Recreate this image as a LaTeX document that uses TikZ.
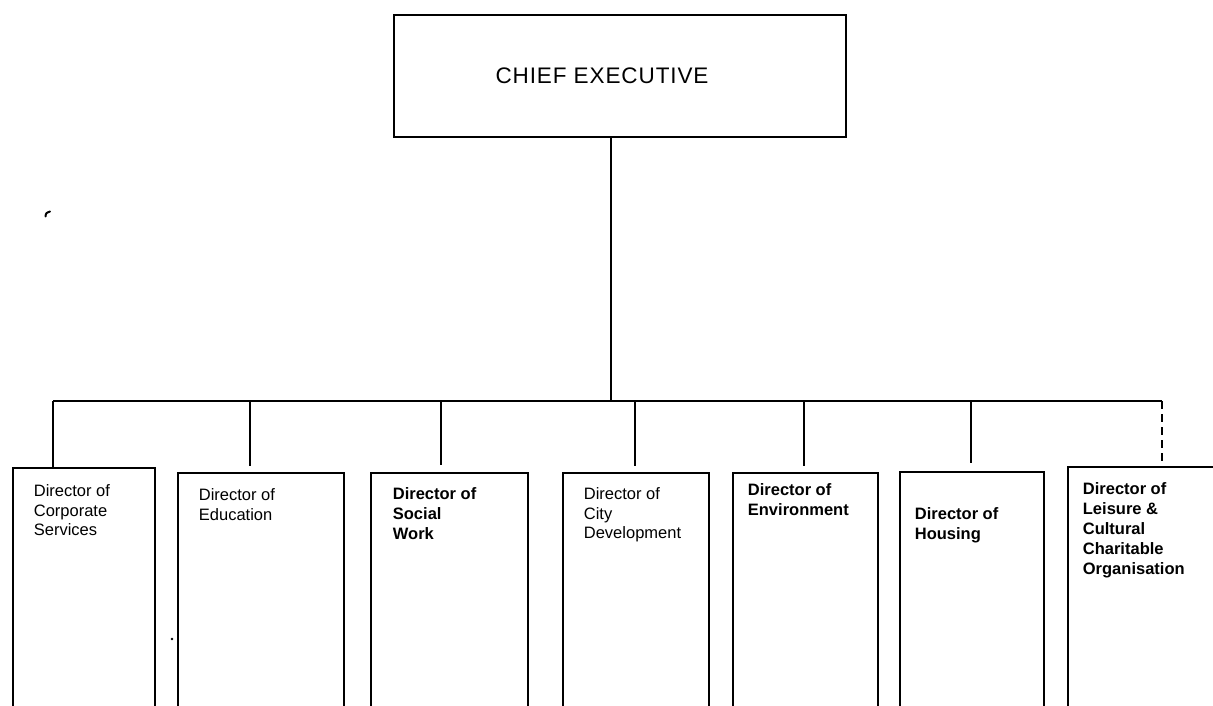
\documentclass[tikz,border=0pt]{standalone}
\usepackage{fontspec}
\setmainfont{Liberation Sans}
\begin{document}
\begin{tikzpicture}[x=1pt,y=-1pt,line width=1.8pt,
  box/.style={draw,rectangle,anchor=north west,inner sep=0pt},
  dtext/.style={anchor=north west,align=left,inner sep=0pt,font=\fontsize{16.5}{19.5}\selectfont},
  btext/.style={anchor=north west,align=left,inner sep=0pt,font=\fontsize{16.5}{19.8}\selectfont\bfseries},
  link/.style={draw,line width=1.6pt},
  dlink/.style={draw,line width=1.8pt,dash pattern=on 8pt off 5pt}]
\useasboundingbox (0,0) rectangle (1213,706);
\clip (0,0) rectangle (1213,706);
% chief executive
\node[box,minimum width=452pt,minimum height=122pt] (ce) at (393,14) {};
\node[anchor=base,inner sep=0pt,font=\fontsize{22.5}{26}\selectfont\addfontfeature{LetterSpace=4}] (cet) at (602,84) {CHIEF EXECUTIVE};
% director boxes
\node[box,minimum width=142pt,minimum height=263pt] (b1) at (12,467) {};
\node[box,minimum width=166pt,minimum height=258pt] (b2) at (177,472) {};
\node[box,minimum width=157pt,minimum height=258pt] (b3) at (370,472) {};
\node[box,minimum width=146pt,minimum height=258pt] (b4) at (562,472) {};
\node[box,minimum width=145pt,minimum height=258pt] (b5) at (732,472) {};
\node[box,minimum width=144pt,minimum height=259pt] (b6) at (899,471) {};
\node[box,minimum width=170pt,minimum height=264pt] (b7) at (1067,466) {};
% texts
\node[dtext] (t1) at (33,484) {Director of\\Corporate\\Services};
\node[dtext] (t2) at (198,488) {Director of\\Education};
\node[btext] (t3) at (392,487) {Director of\\Social\\Work};
\node[dtext] (t4) at (583,487) {Director of\\City\\Development};
\node[btext] (t5) at (747,483) {Director of\\Environment};
\node[btext] (t6) at (914,507) {Director of\\Housing};
\node[btext] (t7) at (1082,482) {Director of\\Leisure \&\\Cultural\\Charitable\\Organisation};
% bus coordinates
\coordinate (hub) at (611,401);
\coordinate (d1) at (53,401);
\coordinate (d2) at (250,401);
\coordinate (d3) at (441,401);
\coordinate (d4) at (635,401);
\coordinate (d5) at (804,401);
\coordinate (d6) at (971,401);
\coordinate (d7) at (1162,401);
% connectors
\draw[link] (ce.south -| hub) -- (hub);
\draw[link] (d1) -- (d7);
\draw[link] (d1) -- (d1 |- b1.north);
\draw[link,shorten >=6pt] (d2) -- (d2 |- b2.north);
\draw[link,shorten >=7pt] (d3) -- (d3 |- b3.north);
\draw[link,shorten >=6pt] (d4) -- (d4 |- b4.north);
\draw[link,shorten >=6pt] (d5) -- (d5 |- b5.north);
\draw[link,shorten >=8pt] (d6) -- (d6 |- b6.north);
\draw[dlink] (d7) -- (d7 |- b7.north);
% scan specks
\draw[line width=2pt,line cap=round] (45.5,216.5) .. controls (46,213) .. (50,211.5);
\fill (172,639) circle (1.3pt);
\end{tikzpicture}
\end{document}
